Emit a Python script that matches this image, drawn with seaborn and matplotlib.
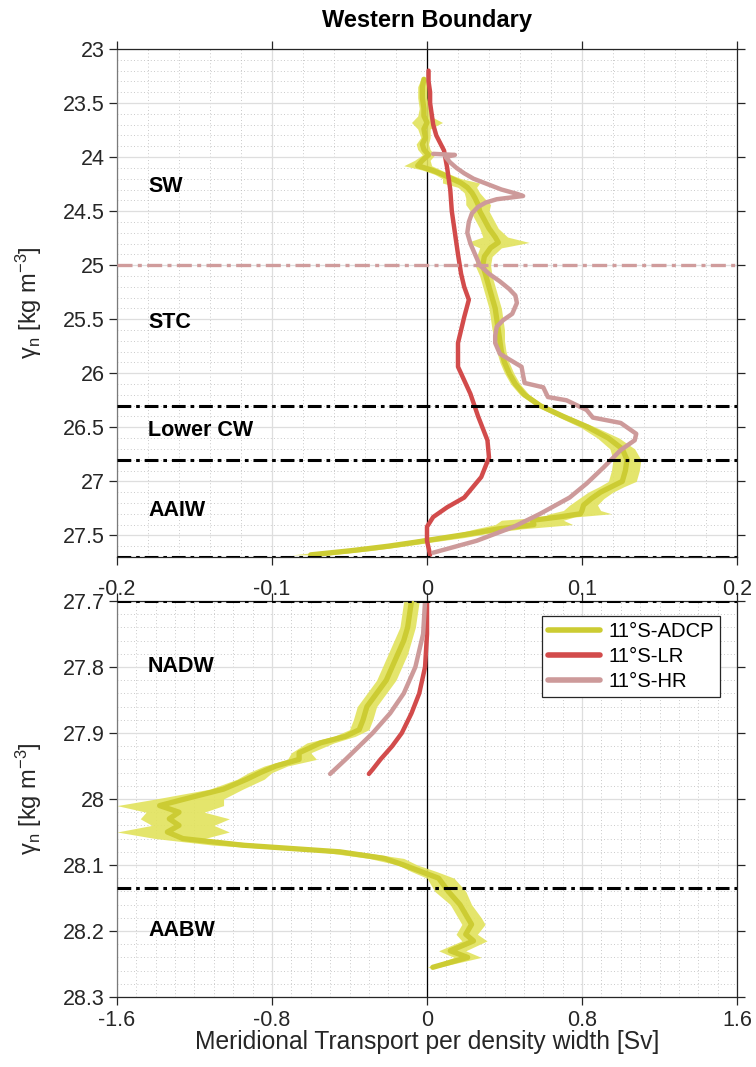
import numpy as np
import pandas as pd
import matplotlib
matplotlib.use("Agg")
import matplotlib.pyplot as plt
import seaborn as sns
from matplotlib.ticker import MultipleLocator, FixedLocator, FuncFormatter

# ---------------------------------------------------------------- data
# Upper layers (gamma_n 23 - 27.7), transport per density width [Sv]
top_gamma_adcp = [23.28, 23.35, 23.45, 23.55, 23.62, 23.68, 23.74, 23.82, 23.88, 23.93,
                  23.98, 24.03, 24.08, 24.12, 24.16, 24.20, 24.24, 24.28, 24.33, 24.38,
                  24.44, 24.50, 24.58, 24.66, 24.74, 24.79, 24.84, 24.92, 25.00, 25.10,
                  25.20, 25.30, 25.40, 25.50, 25.60, 25.70, 25.80, 25.90, 26.00, 26.10,
                  26.20, 26.30, 26.40, 26.50, 26.60, 26.70, 26.80, 26.90, 27.00, 27.05,
                  27.10, 27.16, 27.22, 27.27, 27.30, 27.33, 27.36, 27.40, 27.44, 27.48,
                  27.52, 27.56, 27.60, 27.64, 27.68]
top_adcp = [-0.002, -0.003, -0.003, -0.002, -0.002, 0.000, -0.002, -0.001, -0.003, -0.002,
            0.001, -0.003, -0.006, 0.003, 0.010, 0.016, 0.022, 0.026, 0.029, 0.031,
            0.033, 0.034, 0.037, 0.040, 0.044, 0.046, 0.041, 0.037, 0.036, 0.038,
            0.040, 0.042, 0.044, 0.045, 0.046, 0.047, 0.048, 0.050, 0.053, 0.057,
            0.063, 0.073, 0.088, 0.104, 0.117, 0.126, 0.129, 0.128, 0.126, 0.119,
            0.112, 0.106, 0.101, 0.100, 0.099, 0.085, 0.068, 0.069, 0.046, 0.030,
            0.012, -0.006, -0.025, -0.048, -0.075]
top_adcp_err = [0.002, 0.003, 0.003, 0.003, 0.004, 0.010, 0.004, 0.003, 0.004, 0.004,
                0.004, 0.005, 0.009, 0.006, 0.005, 0.006, 0.012, 0.006, 0.005, 0.006,
                0.008, 0.006, 0.006, 0.006, 0.008, 0.020, 0.007, 0.005, 0.005, 0.004,
                0.004, 0.004, 0.004, 0.004, 0.004, 0.003, 0.003, 0.003, 0.003, 0.003,
                0.003, 0.003, 0.004, 0.005, 0.007, 0.008, 0.009, 0.009, 0.009, 0.008,
                0.008, 0.008, 0.009, 0.012, 0.020, 0.010, 0.020, 0.025, 0.015, 0.010,
                0.012, 0.010, 0.010, 0.012, 0.012]

top_gamma_lr = [23.20, 23.30, 23.40, 23.50, 23.60, 23.70, 23.80, 23.94, 24.10, 24.30,
                24.50, 24.70, 24.90, 25.08, 25.20, 25.32, 25.48, 25.60, 25.72, 25.94,
                26.19, 26.40, 26.62, 26.78, 26.96, 27.15, 27.24, 27.33, 27.42, 27.55,
                27.68]
top_lr = [0.001, 0.001, 0.002, 0.002, 0.003, 0.004, 0.006, 0.011, 0.013, 0.015,
          0.016, 0.018, 0.020, 0.022, 0.024, 0.027, 0.024, 0.022, 0.020, 0.020,
          0.028, 0.033, 0.039, 0.040, 0.035, 0.024, 0.013, 0.004, 0.000, 0.000,
          0.002]

top_gamma_hr = [23.97, 23.98, 24.00, 24.05, 24.10, 24.15, 24.20, 24.25, 24.30, 24.34,
                24.36, 24.39, 24.42, 24.46, 24.52, 24.60, 24.70, 24.80, 24.90, 25.00,
                25.08, 25.15, 25.22, 25.28, 25.35, 25.45, 25.51, 25.57, 25.65, 25.72,
                25.82, 25.88, 25.94, 26.02, 26.09, 26.13, 26.22, 26.25, 26.34, 26.41,
                26.46, 26.56, 26.62, 26.71, 26.87, 27.02, 27.15, 27.30, 27.42, 27.55,
                27.66]
top_hr = [0.004, 0.018, 0.012, 0.015, 0.019, 0.024, 0.030, 0.039, 0.048, 0.058,
          0.062, 0.045, 0.038, 0.033, 0.029, 0.027, 0.026, 0.028, 0.031, 0.034,
          0.040, 0.047, 0.053, 0.057, 0.058, 0.055, 0.049, 0.045, 0.044, 0.044,
          0.047, 0.054, 0.061, 0.062, 0.063, 0.075, 0.078, 0.090, 0.103, 0.107,
          0.125, 0.135, 0.134, 0.125, 0.114, 0.103, 0.092, 0.073, 0.056, 0.032,
          0.004]

# Deep layers (gamma_n 27.7 - 28.3)
bot_gamma_adcp = [27.700, 27.720, 27.740, 27.760, 27.780, 27.800, 27.820, 27.840, 27.860,
                  27.880, 27.895, 27.905, 27.915, 27.930, 27.940, 27.950, 27.960, 27.970,
                  27.985, 28.000, 28.010, 28.020, 28.030, 28.040, 28.050, 28.060, 28.070,
                  28.080, 28.090, 28.100, 28.110, 28.120, 28.140, 28.160, 28.180, 28.190,
                  28.205, 28.215, 28.230, 28.240, 28.255]
bot_adcp = [-0.08, -0.09, -0.10, -0.12, -0.15, -0.18, -0.21, -0.26, -0.31,
            -0.33, -0.35, -0.42, -0.55, -0.66, -0.66, -0.78, -0.86, -0.93,
            -1.05, -1.25, -1.38, -1.28, -1.33, -1.28, -1.34, -1.26, -0.95,
            -0.45, -0.22, -0.12, -0.03, 0.06, 0.11, 0.17, 0.21, 0.23,
            0.20, 0.24, 0.12, 0.21, 0.03]
bot_adcp_lo = [-0.12, -0.13, -0.14, -0.17, -0.20, -0.23, -0.26, -0.31, -0.36,
               -0.38, -0.40, -0.48, -0.62, -0.70, -0.72, -0.84, -0.92, -0.98,
               -1.12, -1.40, -1.60, -1.45, -1.48, -1.42, -1.60, -1.40, -1.10,
               -0.55, -0.30, -0.15, -0.08, 0.00, 0.04, 0.12, 0.16, 0.18,
               0.15, 0.18, 0.06, 0.14, 0.00]
bot_adcp_hi = [-0.04, -0.05, -0.06, -0.08, -0.10, -0.13, -0.16, -0.21, -0.26,
               -0.28, -0.30, -0.37, -0.48, -0.60, -0.57, -0.72, -0.80, -0.84,
               -0.95, -1.05, -1.05, -1.15, -1.02, -1.10, -1.02, -1.15, -0.80,
               -0.35, -0.12, -0.05, 0.05, 0.14, 0.20, 0.23, 0.28, 0.30,
               0.26, 0.31, 0.20, 0.28, 0.06]

bot_gamma_lr = [27.70, 27.75, 27.80, 27.84, 27.87, 27.90, 27.92, 27.94, 27.955, 27.962]
bot_lr = [0.00, 0.00, -0.01, -0.04, -0.08, -0.13, -0.18, -0.24, -0.28, -0.30]

bot_gamma_hr = [27.70, 27.75, 27.80, 27.84, 27.87, 27.90, 27.92, 27.94, 27.962]
bot_hr = [-0.01, -0.02, -0.06, -0.12, -0.19, -0.28, -0.35, -0.42, -0.50]

# Water-mass boundaries and names
top_bounds = [26.3, 26.8, 27.7]
sw_stc_bound = 25.0
bot_bounds = [27.7, 28.135]
top_names = ["SW", "STC", "Lower CW", "AAIW"]
top_name_gamma = [24.27, 25.53, 26.53, 27.27]
bot_names = ["NADW", "AABW"]
bot_name_gamma = [27.80, 28.20]

top_xticks = [-0.2, -0.1, 0, 0.1, 0.2]
bot_xticks = [-1.6, -0.8, 0, 0.8, 1.6]
top_yticks = [23, 23.5, 24, 24.5, 25, 25.5, 26, 26.5, 27, 27.5]
bot_yticks = [27.7, 27.8, 27.9, 28.0, 28.1, 28.2, 28.3]

series_names = ["11°S-ADCP", "11°S-LR", "11°S-HR"]

# ---------------------------------------------------------------- style
sns.set_theme(style="white")
plt.rcParams["font.family"] = ["Liberation Sans", "DejaVu Sans"]
plt.rcParams["mathtext.default"] = "regular"

c_adcp = "#cccc33"
c_adcp_band = "#e2e35c"
c_lr = "#d24b4b"
c_hr = "#cd9a9a"
txt = "#262626"
palette = dict(zip(series_names, [c_adcp, c_lr, c_hr]))
sizes = dict(zip(series_names, [3.8, 3.2, 3.2]))

fig = plt.figure(figsize=(7.56, 10.67), dpi=100)
W, H = 756, 1067
ax1 = fig.add_axes([117 / W, 1 - 557 / H, 620 / W, 508 / H])
ax2 = fig.add_axes([117 / W, 1 - 997 / H, 620 / W, 396 / H])

fmt = FuncFormatter(lambda v, p: f"{v:g}")
dashdot = (0, (4.5, 1.6, 1.2, 1.6))
TICK_FS = 15.5
NAME_FS = 15.5


def style_axes(ax, xminor, yminor):
    ax.xaxis.set_minor_locator(MultipleLocator(xminor))
    ax.yaxis.set_minor_locator(MultipleLocator(yminor))
    ax.grid(which="major", color="#dedede", lw=0.9, ls="-")
    ax.grid(which="minor", color="#b8b8b8", lw=0.6, ls=(0, (1, 3)))
    ax.set_axisbelow(True)
    for s in ax.spines.values():
        s.set_color(txt)
        s.set_linewidth(0.9)
    ax.spines["left"].set_color("#7a7a7a")
    ax.tick_params(which="major", direction="out", length=6, width=0.9, color=txt,
                   labelcolor=txt, labelsize=TICK_FS, top=True, right=True, left=True,
                   bottom=True, pad=3)
    ax.tick_params(which="minor", length=0)
    ax.yaxis.set_major_formatter(fmt)
    ax.xaxis.set_major_formatter(fmt)
    ax.set_xlabel("")
    ax.set_ylabel(r"γ$_{n}$ [kg m$^{-3}$]", fontsize=17, color=txt)
    ax.yaxis.set_label_coords(-0.118, 0.5)


def draw_lines(ax, df):
    sns.lineplot(data=df, x="transport", y="gamma", hue="series", size="series",
                 palette=palette, sizes=sizes, orient="y", estimator=None, sort=False,
                 legend=(ax is ax2), ax=ax, zorder=3)


# ---------------------------------------------------------------- upper panel
df_top = pd.concat([
    pd.DataFrame({"gamma": top_gamma_adcp, "transport": top_adcp, "series": series_names[0]}),
    pd.DataFrame({"gamma": top_gamma_lr, "transport": top_lr, "series": series_names[1]}),
    pd.DataFrame({"gamma": top_gamma_hr, "transport": top_hr, "series": series_names[2]}),
])
ax1.axvline(0, color="black", lw=0.9, zorder=1.5)
g = np.array(top_gamma_adcp)
a = np.array(top_adcp)
e = np.array(top_adcp_err)
ax1.fill_betweenx(g, a - e, a + e, color=c_adcp_band, alpha=0.9, lw=0, zorder=2)
draw_lines(ax1, df_top)
ax1.axhline(sw_stc_bound, color="#d09c9c", lw=2.4, ls=dashdot, zorder=4)
for b in top_bounds:
    ax1.axhline(b, color="black", lw=2.2, ls=dashdot, zorder=5)
for name, gm in zip(top_names, top_name_gamma):
    ax1.text(-0.18, gm, name, fontsize=NAME_FS, fontweight="bold", color="black",
             va="center", ha="left", zorder=6)
ax1.set_xlim(-0.2, 0.2)
ax1.set_ylim(27.7, 23)
ax1.xaxis.set_major_locator(FixedLocator(top_xticks))
ax1.yaxis.set_major_locator(FixedLocator(top_yticks))
style_axes(ax1, 0.02, 0.1)
ax1.tick_params(labelbottom=False)

# ---------------------------------------------------------------- lower panel
df_bot = pd.concat([
    pd.DataFrame({"gamma": bot_gamma_adcp, "transport": bot_adcp, "series": series_names[0]}),
    pd.DataFrame({"gamma": bot_gamma_lr, "transport": bot_lr, "series": series_names[1]}),
    pd.DataFrame({"gamma": bot_gamma_hr, "transport": bot_hr, "series": series_names[2]}),
])
ax2.axvline(0, color="black", lw=0.9, zorder=1.5)
ax2.fill_betweenx(bot_gamma_adcp, bot_adcp_lo, bot_adcp_hi, color=c_adcp_band,
                  alpha=0.9, lw=0, zorder=2)
draw_lines(ax2, df_bot)
for b in bot_bounds:
    ax2.axhline(b, color="black", lw=2.2, ls=dashdot, zorder=5)
for name, gm in zip(bot_names, bot_name_gamma):
    ax2.text(-1.44, gm, name, fontsize=NAME_FS, fontweight="bold", color="black",
             va="center", ha="left", zorder=6)
ax2.set_xlim(-1.6, 1.6)
ax2.set_ylim(28.3, 27.7)
ax2.xaxis.set_major_locator(FixedLocator(bot_xticks))
ax2.yaxis.set_major_locator(FixedLocator(bot_yticks))
style_axes(ax2, 0.1, 0.02)
ax2.tick_params(labeltop=False)

# upper-panel transport scale shown above the lower panel
sec = ax2.secondary_xaxis("top", functions=(lambda x: x / 8.0, lambda x: x * 8.0))
sec.xaxis.set_major_locator(FixedLocator(top_xticks))
sec.xaxis.set_major_formatter(fmt)
sec.tick_params(direction="out", length=0, labelsize=TICK_FS, labelcolor=txt, pad=1)
sec.spines["top"].set_visible(False)

leg = ax2.legend(loc="upper right", bbox_to_anchor=(0.973, 0.962), fontsize=14.6,
                 frameon=True, fancybox=False, framealpha=1, edgecolor=txt,
                 handlelength=2.6, borderpad=0.3, labelspacing=0.3,
                 handletextpad=0.4, borderaxespad=0, title=None)
leg.get_frame().set_linewidth(0.9)
for line in leg.get_lines():
    line.set_linewidth(4)
for t in leg.get_texts():
    t.set_color("black")

fig.text(427 / W, 1 - 1042 / H, "Meridional Transport per density width [Sv]",
         fontsize=17.7, color=txt, ha="center", va="center")
fig.text(427 / W, 1 - 20 / H, "Western Boundary", fontsize=17, fontweight="bold",
         color="black", ha="center", va="center")

fig.savefig("out.png", dpi=100, facecolor="white")
